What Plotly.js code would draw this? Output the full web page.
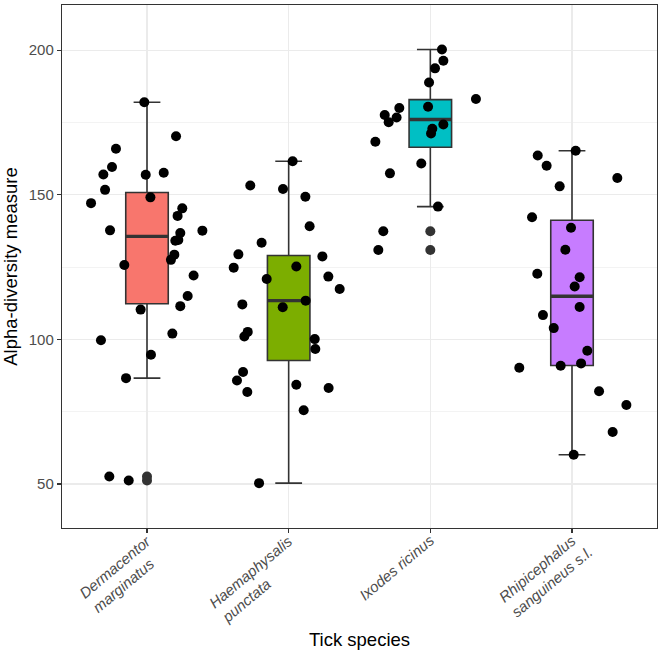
<!DOCTYPE html>
<html><head><meta charset="utf-8">
<script src="https://cdn.plot.ly/plotly-3.0.1.min.js"></script>
<style>html,body{margin:0;padding:0;background:#fff}#chart{width:658px;height:651px}</style>
</head><body><div id="chart"></div>
<script>
// ---- data ----
const species = ["Dermacentor<br>marginatus", "Haemaphysalis<br>punctata", "Ixodes ricinus", "Rhipicephalus<br>sanguineus s.l."];
const boxColors = ["#F8766D", "#7CAE00", "#00BFC4", "#C77CFF"];

// box statistics
const q1 = [112.3, 92.7, 166.4, 91.0];
const medians = [135.6, 113.4, 176.0, 114.9];
const q3 = [150.8, 129.0, 182.9, 141.2];
const lowerWhisker = [86.6, 50.3, 145.9, 60.1];
const upperWhisker = [182.0, 161.6, 200.2, 165.2];

// sample values and horizontal jitter per species
const dermValues = [182.0,170.2,165.9,159.6,157.0,156.9,157.6,151.7,147.1,149.1,145.3,142.7,137.7,137.6,136.8,134.4,134.1,129.3,127.5,125.7,122.1,115.0,111.5,110.3,102.0,94.7,99.7,86.6,52.6,51.2];
const dermJitter = [-0.019,0.205,-0.219,-0.247,-0.308,-0.009,0.118,-0.296,-0.395,0.024,0.249,0.216,-0.261,0.391,0.235,0.221,0.200,0.193,0.169,-0.160,0.329,0.287,0.235,-0.045,0.179,0.028,-0.325,-0.148,-0.266,-0.129];

const haemValues = [161.6,153.2,152.0,149.3,139.1,133.4,129.4,124.8,128.7,125.2,120.9,121.7,117.4,112.1,113.4,111.1,102.6,101.0,100.1,96.7,88.7,85.8,81.8,84.3,83.2,75.5,50.3];
const haemJitter = [0.028,-0.271,-0.040,0.118,0.148,-0.191,-0.355,-0.388,0.238,0.054,-0.155,0.280,0.360,-0.327,0.120,-0.042,-0.289,-0.313,0.184,0.188,-0.322,-0.365,-0.292,0.054,0.282,0.106,-0.209];

const ixodValues = [200.2,196.3,193.7,188.8,183.1,180.0,180.4,177.6,176.7,175.1,174.3,172.8,171.2,168.3,160.8,157.4,145.9,137.4,130.9];
const ixodJitter = [0.082,0.092,0.033,-0.009,0.322,-0.219,-0.016,-0.322,-0.238,-0.294,0.092,0.014,0.005,-0.388,-0.064,-0.285,0.054,-0.332,-0.367];

const rhipValues = [165.2,163.6,160.0,155.8,152.9,142.2,138.6,131.0,122.7,121.5,118.3,111.2,108.4,103.9,96.1,90.9,91.7,90.2,82.1,77.3,68.0,60.1];
const rhipJitter = [0.026,-0.242,-0.179,0.320,-0.087,-0.282,-0.007,-0.047,-0.245,0.054,0.019,0.054,-0.205,-0.129,0.108,-0.080,0.064,-0.372,0.191,0.384,0.287,0.012];

const yTicks = [50, 100, 150, 200];
// ---- end data ----

const groups = [[dermValues, dermJitter],[haemValues, haemJitter],[ixodValues, ixodJitter],[rhipValues, rhipJitter]];
const BOXW = 0.3;
const traces = [];
species.forEach((s, i) => {
  traces.push({
    type: 'box', x: [i + 1], q1: [q1[i]], median: [medians[i]], q3: [q3[i]],
    lowerfence: [lowerWhisker[i]], upperfence: [upperWhisker[i]],
    width: BOXW, whiskerwidth: 0.63, boxpoints: false,
    fillcolor: boxColors[i], line: {color: '#333333', width: 1.6},
    hoverinfo: 'skip', showlegend: false
  });
  traces.push({
    type: 'scatter', mode: 'lines', x: [i + 1 - BOXW/2, i + 1 + BOXW/2], y: [medians[i], medians[i]],
    line: {color: '#333333', width: 3.4}, hoverinfo: 'skip', showlegend: false
  });
});
// outliers (beyond whiskers) at box centre, in box line colour
const outX = [], outY = [];
groups.forEach(([vals], i) => vals.forEach(v => {
  if (v < lowerWhisker[i] - 0.05 || v > upperWhisker[i] + 0.05) { outX.push(i + 1); outY.push(v); }
}));
traces.push({type:'scatter', mode:'markers', x: outX, y: outY,
  marker:{color:'#333333', size:10}, hoverinfo:'skip', showlegend:false});
// jittered points
const jx = [], jy = [];
groups.forEach(([vals, jit], i) => vals.forEach((v, k) => { jx.push(i + 1 + jit[k]); jy.push(v); }));
traces.push({type:'scatter', mode:'markers', x: jx, y: jy,
  marker:{color:'#000000', size:10}, hoverinfo:'skip', showlegend:false});

// rotated, left-aligned category labels (one annotation per line)
const TICKFONT = 15, ANG = 40, LINEH = 19.5;
const ctx = document.createElement('canvas').getContext('2d');
ctx.font = 'italic ' + TICKFONT + 'px "Liberation Sans"';
const ca = Math.cos(ANG*Math.PI/180), sa = Math.sin(ANG*Math.PI/180);
const annotations = [];
species.forEach((lab, i) => {
  const lines = lab.split('<br>');
  const w0 = ctx.measureText(lines[0]).width;
  // end of first line: just right of tick, below axis
  const ex = 1.5, ey = 10.5;
  const sx = ex - w0*ca, sy = ey + w0*sa;
  lines.forEach((ln, j) => {
    const w = ctx.measureText(ln).width;
    const lx = sx + j*LINEH*sa, ly = sy + j*LINEH*ca;
    const cx = lx + (w/2)*ca, cy = ly - (w/2)*sa;
    annotations.push({
      xref: 'x', yref: 'paper', x: i + 1, y: 0, xanchor: 'center', yanchor: 'middle',
      xshift: cx, yshift: -cy, text: '<i>' + ln + '</i>', showarrow: false, textangle: -ANG,
      font: {size: TICKFONT, color: '#4D4D4D'}, borderpad: 0
    });
  });
});

const layout = {
  width: 658, height: 651,
  margin: {l: 62, r: 1, t: 5, b: 123},
  paper_bgcolor: '#ffffff', plot_bgcolor: '#ffffff',
  font: {family: 'Liberation Sans, Arial, sans-serif', color: '#000000'},
  showlegend: false,
  annotations: annotations,
  xaxis: {
    range: [0.4, 4.6], tickmode: 'array', tickvals: [1,2,3,4], showticklabels: false,
    ticks: 'outside', ticklen: 4, tickcolor: '#333333', tickwidth: 1.2,
    showgrid: true, gridcolor: '#EBEBEB', gridwidth: 1.2, zeroline: false,
    showline: true, mirror: true, linecolor: '#333333', linewidth: 1.2,
    title: {text: 'Tick species', font: {size: 18.5, color: '#000000'}, standoff: 100}
  },
  yaxis: {
    range: [34.8, 215.6], tickmode: 'array', tickvals: yTicks,
    tickfont: {size: 15, color: '#4D4D4D'},
    ticks: 'outside', ticklen: 4, tickcolor: '#333333', tickwidth: 1.2,
    showgrid: true, gridcolor: '#EBEBEB', gridwidth: 1.2, zeroline: false,
    minor: {tickmode: 'array', tickvals: [75, 125, 175], showgrid: true, gridcolor: '#EBEBEB', gridwidth: 0.6, ticks: ''},
    showline: true, mirror: true, linecolor: '#333333', linewidth: 1.2,
    title: {text: 'Alpha-diversity measure', font: {size: 18.5, color: '#000000'}, standoff: 10}
  }
};
Plotly.newPlot('chart', traces, layout, {staticPlot: true, displayModeBar: false});
</script></body></html>
